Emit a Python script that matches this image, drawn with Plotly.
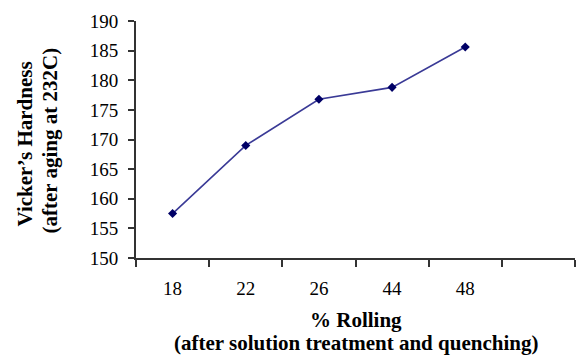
import plotly.graph_objects as go

rolling = ["18", "22", "26", "44", "48"]
hardness = [157.5, 169.0, 176.8, 178.8, 185.6]
y_ticks = [150, 155, 160, 165, 170, 175, 180, 185, 190]

font_family = "Liberation Serif, Times New Roman, serif"

fig = go.Figure()
fig.add_trace(go.Scatter(
    x=rolling, y=hardness, mode="lines+markers",
    line=dict(color="#3a3a96", width=1.6),
    marker=dict(symbol="diamond", size=7, color="#000066"),
    showlegend=False,
))

def px_x(p):
    return (p - 136) / 439

def px_y(p):
    return (258 - p) / 237

title_font = dict(size=21, family=font_family, color="black")

fig.update_layout(
    width=576, height=356,
    margin=dict(l=136, r=1, t=21, b=98),
    paper_bgcolor="white", plot_bgcolor="white",
    font=dict(family=font_family, color="black"),
    xaxis=dict(
        type="category", categoryorder="array", categoryarray=rolling + [" "],
        range=[-0.5, 5.5], tickson="boundaries",
        ticks="outside", ticklen=7, tickwidth=2, tickcolor="#333",
        showline=True, linecolor="#333", linewidth=2,
        showgrid=False, zeroline=False,
        tickfont=dict(size=19, family=font_family, color="black"),
        ticklabelstandoff=12,
    ),
    yaxis=dict(
        range=[150, 190], tickvals=y_ticks,
        ticks="outside", ticklen=6, tickwidth=2, tickcolor="#333",
        showline=True, linecolor="#333", linewidth=2,
        showgrid=False, zeroline=False,
        tickfont=dict(size=19, family=font_family, color="black"),
        ticklabelstandoff=6,
    ),
    annotations=[
        dict(text="<b>% Rolling</b>",
             xref="paper", yref="paper", x=0.5, y=px_y(320),
             xanchor="center", yanchor="middle", showarrow=False, font=title_font),
        dict(text="<b>(after solution treatment and quenching)</b>",
             xref="paper", yref="paper", x=0.5, y=px_y(343),
             xanchor="center", yanchor="middle", showarrow=False, font=title_font),
        dict(text="<b>Vicker’s Hardness</b>",
             xref="paper", yref="paper", x=px_x(24), y=px_y(143.5),
             xanchor="center", yanchor="middle", textangle=-90, showarrow=False,
             font=title_font),
        dict(text="<b>(after aging at 232C)</b>",
             xref="paper", yref="paper", x=px_x(49), y=px_y(140.5),
             xanchor="center", yanchor="middle", textangle=-90, showarrow=False,
             font=title_font),
    ],
)

fig.write_html("out.html")
